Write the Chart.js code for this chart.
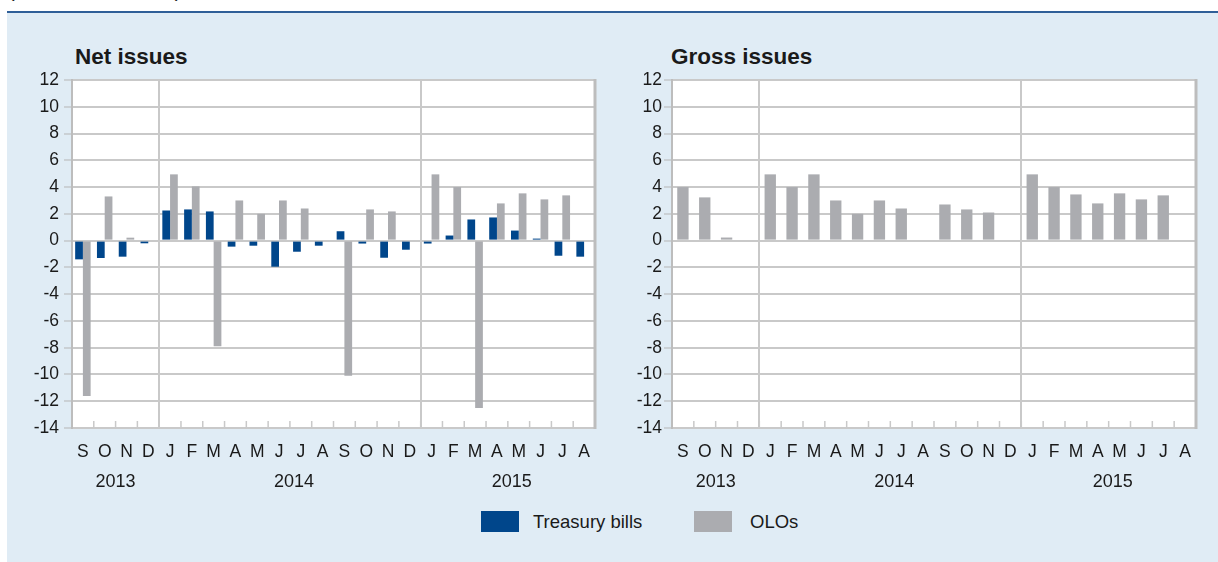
<!DOCTYPE html>
<html>
<head>
<meta charset="utf-8">
<script src="https://cdn.jsdelivr.net/npm/chart.js@4.4.1/dist/chart.umd.min.js"></script>
<style>
  body { margin: 0; width: 1218px; height: 562px; background: #fff; position: relative; overflow: hidden;
         font-family: "Liberation Sans", Arial, sans-serif; color: #1a1a1a; }
  #unit { position: absolute; left: 8px; top: -21px; font-size: 20px; }
  #panel { position: absolute; left: 7px; top: 11px; right: 0; bottom: 0; background: #e0ecf5; border-top: 2px solid #2f5f98; }
  .title { position: absolute; top: 46px; font-size: 22.5px; font-weight: bold; line-height: 22.5px; }
  canvas { position: absolute; top: 40px; }
  .leg { position: absolute; top: 511px; height: 21px; }
  .legtxt { position: absolute; top: 511px; font-size: 18.5px; line-height: 21px; }
</style>
</head>
<body>
<div id="unit">(in billions of euros)</div>
<div id="panel"></div>
<div class="title" style="left:75px">Net issues</div>
<div class="title" style="left:671px">Gross issues</div>
<canvas id="net" width="605" height="470" style="left:0"></canvas>
<canvas id="gross" width="605" height="470" style="left:605px"></canvas>
<div class="leg" style="left:481px;width:38px;background:#00468b"></div>
<div class="legtxt" style="left:533px">Treasury bills</div>
<div class="leg" style="left:694px;width:38px;background:#abacb0"></div>
<div class="legtxt" style="left:750px">OLOs</div>
<script>
// months Sep 2013 - Aug 2015
const months = ["S","O","N","D","J","F","M","A","M","J","J","A","S","O","N","D","J","F","M","A","M","J","J","A"];
const years = ["2013", "2014", "2015"];
const yearStart = [0, 4, 16];
const yearEnd = [3, 15, 23];

const netBills = [-1.4, -1.3, -1.2, -0.2, 2.25, 2.33, 2.18, -0.45, -0.38, -1.95, -0.83, -0.38,
                  0.7, -0.22, -1.28, -0.68, -0.22, 0.38, 1.58, 1.73, 0.75, 0.15, -1.13, -1.2];
const netOlos = [-11.6, 3.3, 0.22, 0, 4.95, 4.05, -7.9, 3.0, 2.0, 3.0, 2.4, 0,
                 -10.1, 2.33, 2.18, 0, 4.95, 4.0, -12.5, 2.78, 3.53, 3.08, 3.38, 0];
const grossOlos = [4.0, 3.23, 0.23, 0, 4.95, 4.0, 4.95, 3.0, 2.0, 3.0, 2.4, 0,
                   2.7, 2.33, 2.1, 0, 4.95, 4.0, 3.45, 2.78, 3.53, 3.08, 3.38, 0];

const yMin = -14, yMax = 12, yStep = 2;

const BLUE = "#00468b";
const GREY = "#abacb0";
const GRID = "#c9c9c9";
const FONT = { family: "'Liberation Sans', Arial, sans-serif", size: 17.5 };

// white plot area, small ticks at the bottom, year labels, right border
const panelPlugin = {
  id: "panelPlugin",
  beforeDraw(chart) {
    const { ctx, chartArea: a } = chart;
    ctx.save();
    ctx.fillStyle = "#fff";
    ctx.fillRect(a.left, a.top, a.right - a.left, a.bottom - a.top);
    ctx.restore();
  },
  afterDraw(chart) {
    const { ctx, chartArea: a } = chart;
    const x = chart.scales.x;
    const half = (x.getPixelForValue(1) - x.getPixelForValue(0)) / 2;
    ctx.save();
    ctx.strokeStyle = GRID;
    ctx.lineWidth = 1.5;
    ctx.beginPath();
    for (let i = 1; i < months.length; i++) {
      const px = x.getPixelForValue(i) - half;
      ctx.moveTo(px, a.bottom);
      ctx.lineTo(px, a.bottom - 7);
    }
    ctx.stroke();
    // right frame
    ctx.strokeStyle = "#bdbdbd";
    ctx.lineWidth = 3;
    ctx.beginPath();
    ctx.moveTo(a.right, a.top - 1);
    ctx.lineTo(a.right, a.bottom + 1);
    ctx.stroke();
    // years
    ctx.fillStyle = "#1a1a1a";
    ctx.font = "18px 'Liberation Sans', Arial, sans-serif";
    ctx.textAlign = "center";
    ctx.textBaseline = "middle";
    years.forEach((y, i) => {
      const cx = (x.getPixelForValue(yearStart[i]) + x.getPixelForValue(yearEnd[i])) / 2;
      ctx.fillText(y, cx + (i > 0 ? 4 : 0), a.bottom + 54);
    });
    ctx.restore();
  }
};

function makeChart(id, datasets, axisWidth, tickPad, catPct) {
  return new Chart(document.getElementById(id), {
    type: "bar",
    data: { labels: months, datasets: datasets },
    options: {
      responsive: false,
      animation: false,
      datasets: { bar: { categoryPercentage: catPct, barPercentage: 1.0 } },
      layout: { padding: { left: 0, right: axisWidth === 72 ? 10 : 14, top: 40, bottom: 0 } },
      plugins: { legend: { display: false }, tooltip: { enabled: false } },
      scales: {
        x: {
          offset: true,
          grid: {
            offset: true,
            drawTicks: false,
            lineWidth: 2,
            color: (c) => (c.index > 0 && yearStart.includes(c.index) ? GRID : "transparent")
          },
          border: { display: false },
          ticks: { font: FONT, color: "#1a1a1a", padding: 14, autoSkip: false, maxRotation: 0 },
          afterFit: (s) => { s.height = 82; }
        },
        y: {
          min: yMin,
          max: yMax,
          ticks: { stepSize: yStep, font: FONT, color: "#1a1a1a", padding: tickPad },
          grid: { color: GRID, lineWidth: 2, tickLength: 8, tickColor: "#b5b5b5", tickWidth: 1 },
          border: { color: "#bdbdbd", width: 2 },
          afterFit: (s) => { s.width = axisWidth; }
        }
      }
    },
    plugins: [panelPlugin]
  });
}

makeChart("net", [
  { label: "Treasury bills", data: netBills, backgroundColor: BLUE },
  { label: "OLOs", data: netOlos, backgroundColor: GREY }
], 72, 5, 0.71);

makeChart("gross", [
  { label: "OLOs", data: grossOlos, backgroundColor: GREY }
], 67, 2, 0.52);
</script>
</body>
</html>
